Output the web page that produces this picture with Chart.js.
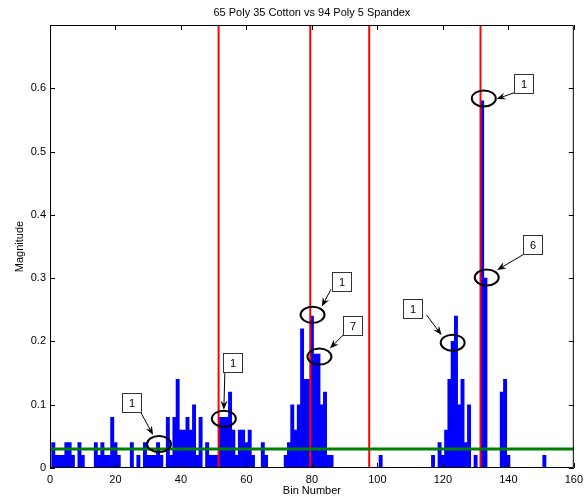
<!DOCTYPE html>
<html>
<head>
<meta charset="utf-8">
<script src="https://cdn.jsdelivr.net/npm/chart.js@4.4.0/dist/chart.umd.min.js"></script>
<style>
  html, body { margin: 0; padding: 0; background: #fff; }
</style>
</head>
<body>
<canvas id="chart" width="588" height="500"></canvas>
<script>
const chartTitle = "65 Poly 35 Cotton vs 94 Poly 5 Spandex";

// histogram bins with a non-zero magnitude
const bins = [1, 2, 3, 4, 5, 6, 7, 9, 10, 14, 15, 16, 17, 18, 19, 20, 21, 25, 27, 29,
  30, 31, 32, 33, 34, 36, 37, 38, 39, 40, 41, 42, 43, 44, 45, 46, 48, 49, 50, 51,
  52, 53, 54, 55, 56, 57, 58, 59, 60, 61, 62, 65, 66, 72, 73, 74, 75, 76, 77, 78,
  79, 80, 81, 82, 83, 84, 85, 86, 101, 117, 119, 120, 121, 122, 123, 124, 125, 126, 127, 128,
  130, 132, 133, 138, 139, 140, 151];
const magnitudes = [0.04, 0.02, 0.02, 0.02, 0.04, 0.04, 0.02, 0.04, 0.02, 0.04, 0.02, 0.04, 0.02, 0.02, 0.08, 0.04, 0.02, 0.04, 0.02, 0.04,
  0.02, 0.02, 0.02, 0.04, 0.02, 0.08, 0.02, 0.08, 0.14, 0.06, 0.06, 0.08, 0.06, 0.1, 0.02, 0.08, 0.04, 0.02, 0.02, 0.02,
  0.08, 0.08, 0.08, 0.12, 0.06, 0.02, 0.06, 0.06, 0.04, 0.06, 0.02, 0.04, 0.02, 0.02, 0.04, 0.1, 0.06, 0.1, 0.22, 0.14,
  0.14, 0.24, 0.18, 0.18, 0.1, 0.12, 0.02, 0.02, 0.02, 0.02, 0.04, 0.02, 0.06, 0.14, 0.2, 0.24, 0.1, 0.14, 0.04, 0.1,
  0.02, 0.58, 0.3, 0.12, 0.14, 0.02, 0.02];

const cutoffBins = [51.5, 79.5, 97.5, 131.5];
const threshold = 0.03;

const xTicks = [0, 20, 40, 60, 80, 100, 120, 140, 160];
const yTicks = [0, 0.1, 0.2, 0.3, 0.4, 0.5, 0.6];

// callouts: label, circled point, label box centre, arrow start and end (bin, magnitude)
const calloutLabels = ["1", "1", "1", "7", "1", "1", "6"];
const calloutCircles = [[33.3, 0.038], [53.1, 0.078], [80.2, 0.242], [82.3, 0.176], [123, 0.198], [132.5, 0.584], [133.4, 0.301]];
const calloutBoxes = [[24.9, 0.103], [55.9, 0.166], [89.2, 0.294], [92.5, 0.225], [110.8, 0.252], [144.7, 0.607], [147.4, 0.352]];
const arrowFrom = [[27.5, 0.09], [53.4, 0.15], [85.8, 0.282], [90.1, 0.213], [115.0, 0.242], [141.8, 0.593], [144.5, 0.337]];
const arrowTo = [[31.5, 0.052], [53.1, 0.092], [83.0, 0.255], [85.5, 0.189], [119.6, 0.21], [136.4, 0.583], [136.6, 0.313]];

Chart.defaults.font.family = "'Liberation Sans', Arial, Helvetica, sans-serif";
Chart.defaults.font.size = 11;
Chart.defaults.color = "#000";

const matlabAxes = {
  id: "matlabAxes",
  afterDatasetsDraw(chart) {
    const { ctx, chartArea: a, scales: { x, y } } = chart;
    ctx.save();

    // box and inward ticks
    ctx.strokeStyle = "#000";
    ctx.lineWidth = 1;
    ctx.beginPath();
    ctx.rect(a.left + 0.5, a.top + 0.5, a.right - a.left - 1, a.bottom - a.top - 1);
    xTicks.forEach(v => {
      const px = Math.round(x.getPixelForValue(v)) + 0.5;
      ctx.moveTo(px, a.bottom); ctx.lineTo(px, a.bottom - 5);
      ctx.moveTo(px, a.top); ctx.lineTo(px, a.top + 5);
    });
    yTicks.forEach(v => {
      const py = Math.round(y.getPixelForValue(v)) + 0.5;
      ctx.moveTo(a.left, py); ctx.lineTo(a.left + 5, py);
      ctx.moveTo(a.right, py); ctx.lineTo(a.right - 5, py);
    });
    ctx.stroke();

    // title
    ctx.fillStyle = "#000";
    ctx.font = "11px 'Liberation Sans', Arial, sans-serif";
    ctx.textAlign = "center";
    ctx.textBaseline = "middle";
    ctx.fillText(chartTitle, (a.left + a.right) / 2, 13);

    // callouts
    calloutLabels.forEach((label, i) => {
      const cx = x.getPixelForValue(calloutCircles[i][0]);
      const cy = y.getPixelForValue(calloutCircles[i][1]);
      ctx.lineWidth = 2;
      ctx.strokeStyle = "#000";
      ctx.beginPath();
      ctx.ellipse(cx, cy, 12, 8, 0, 0, Math.PI * 2);
      ctx.stroke();

      const x0 = x.getPixelForValue(arrowFrom[i][0]);
      const y0 = y.getPixelForValue(arrowFrom[i][1]);
      const x1 = x.getPixelForValue(arrowTo[i][0]);
      const y1 = y.getPixelForValue(arrowTo[i][1]);
      const ang = Math.atan2(y1 - y0, x1 - x0);
      ctx.lineWidth = 1;
      ctx.beginPath();
      ctx.moveTo(x0, y0);
      ctx.lineTo(x1 - 6 * Math.cos(ang), y1 - 6 * Math.sin(ang));
      ctx.stroke();
      ctx.fillStyle = "#000";
      ctx.beginPath();
      ctx.moveTo(x1, y1);
      ctx.lineTo(x1 - 9 * Math.cos(ang) + 3.5 * Math.sin(ang), y1 - 9 * Math.sin(ang) - 3.5 * Math.cos(ang));
      ctx.lineTo(x1 - 6 * Math.cos(ang), y1 - 6 * Math.sin(ang));
      ctx.lineTo(x1 - 9 * Math.cos(ang) - 3.5 * Math.sin(ang), y1 - 9 * Math.sin(ang) + 3.5 * Math.cos(ang));
      ctx.closePath();
      ctx.fill();

      const bx = Math.round(x.getPixelForValue(calloutBoxes[i][0]));
      const by = Math.round(y.getPixelForValue(calloutBoxes[i][1]));
      ctx.fillStyle = "#fff";
      ctx.fillRect(bx - 9.5, by - 9.5, 19, 19);
      ctx.strokeStyle = "#333";
      ctx.strokeRect(bx - 9.5, by - 9.5, 19, 19);
      ctx.fillStyle = "#000";
      ctx.fillText(label, bx, by + 0.5);
    });
    ctx.restore();
  }
};

new Chart(document.getElementById("chart"), {
  type: "bar",
  data: {
    datasets: [
      {
        type: "line",
        data: [{ x: 0, y: threshold }, { x: 160, y: threshold }],
        borderColor: "#008000",
        borderWidth: 3,
        pointRadius: 0,
        order: 0
      },
      ...cutoffBins.map(b => ({
        type: "line",
        data: [{ x: b, y: 0 }, { x: b, y: 0.7 }],
        borderColor: "#ff0000",
        borderWidth: 2,
        pointRadius: 0,
        order: 1
      })),
      {
        type: "bar",
        data: bins.map((b, i) => ({ x: b, y: magnitudes[i] })),
        backgroundColor: "#0000ff",
        borderWidth: 0,
        barPercentage: 1,
        categoryPercentage: 1,
        order: 2
      }
    ]
  },
  options: {
    responsive: false,
    animation: false,
    events: [],
    layout: { padding: { top: 25, right: 14, left: 0, bottom: 0 } },
    plugins: { legend: { display: false }, tooltip: { enabled: false } },
    scales: {
      x: {
        type: "linear",
        min: 0,
        max: 160,
        offset: false,
        grid: { display: false, drawTicks: false, offset: false },
        border: { display: false },
        afterBuildTicks: s => { s.ticks = xTicks.map(v => ({ value: v })); },
        afterFit: s => { s.height = 32; },
        ticks: { padding: 5, maxRotation: 0 },
        title: { display: true, text: "Bin Number", padding: { top: 0, bottom: 2 } }
      },
      y: {
        min: 0,
        max: 0.7,
        grid: { display: false, drawTicks: false },
        border: { display: false },
        afterBuildTicks: s => { s.ticks = yTicks.map(v => ({ value: v })); },
        afterFit: s => { s.width = 50; },
        ticks: { padding: 4, callback: v => String(Math.round(v * 10) / 10) },
        title: { display: true, text: "Magnitude", padding: { top: 13, bottom: 0 } }
      }
    }
  },
  plugins: [matlabAxes]
});
</script>
</body>
</html>
